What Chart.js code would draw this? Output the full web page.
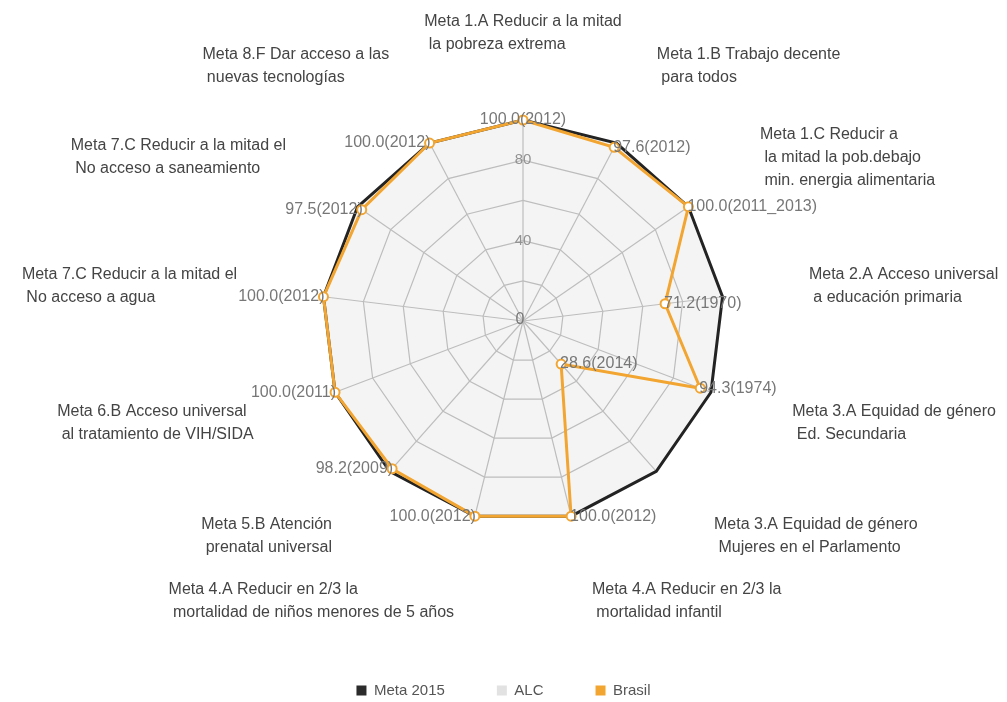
<!DOCTYPE html>
<html>
<head>
<meta charset="utf-8">
<script src="https://cdn.jsdelivr.net/npm/chart.js@4.4.1/dist/chart.umd.min.js"></script>
<style>
  html, body { margin: 0; padding: 0; background: #fff; }
  #wrap { width: 1007px; height: 702px; }
</style>
</head>
<body>
<div id="wrap"><canvas id="radar"></canvas></div>
<script>
// axis labels (clockwise from the top)
const metas = [
  ['Meta 1.A Reducir a la mitad', ' la pobreza extrema'],
  ['Meta 1.B Trabajo decente', ' para todos'],
  ['Meta 1.C Reducir a', ' la mitad la pob.debajo', ' min. energia alimentaria'],
  ['Meta 2.A Acceso universal', ' a educación primaria'],
  ['Meta 3.A Equidad de género', ' Ed. Secundaria'],
  ['Meta 3.A Equidad de género', ' Mujeres en el Parlamento'],
  ['Meta 4.A Reducir en 2/3 la', ' mortalidad infantil'],
  ['Meta 4.A Reducir en 2/3 la', ' mortalidad de niños menores de 5 años'],
  ['Meta 5.B Atención', ' prenatal universal'],
  ['Meta 6.B Acceso universal', ' al tratamiento de VIH/SIDA'],
  ['Meta 7.C Reducir a la mitad el', ' No acceso a agua'],
  ['Meta 7.C Reducir a la mitad el', ' No acceso a saneamiento'],
  ['Meta 8.F Dar acceso a las', ' nuevas tecnologías']
];

const meta2015 = [100, 100, 100, 100, 100, 100, 100, 100, 100, 100, 100, 100, 100];
const alc = [null, null, null, null, null, null, null, null, null, null, null, null, null];
const brasil = [100.0, 97.6, 100.0, 71.2, 94.3, 28.6, 100.0, 100.0, 98.2, 100.0, 100.0, 97.5, 100.0];
const brasilYears = ['2012', '2012', '2011_2013', '1970', '1974', '2014', '2012', '2012', '2009', '2011', '2012', '2012', '2012'];

const ticksShown = [40, 80];

const FONT = '"Liberation Sans", Arial, sans-serif';
const ORANGE = '#f2a531';
const legendBoxes = ['#2b2b2b', '#e2e2e2', ORANGE];

// how far the axis labels sit outside the outer ring (px)
const LABEL_GAP = 87;

// axis labels: blocks of left-aligned lines, anchored on the axis direction
const axisLabels = {
  id: 'axisLabels',
  afterDraw(chart) {
    const ctx = chart.ctx;
    const r = chart.scales.r;
    const lh = 23;
    ctx.save();
    ctx.font = '16px ' + FONT;
    ctx.fillStyle = '#444';
    ctx.textAlign = 'left';
    ctx.textBaseline = 'middle';
    chart.data.labels.forEach((lines, i) => {
      const p = r.getPointPosition(i, r.drawingArea + LABEL_GAP);
      const w = Math.max(...lines.map(l => ctx.measureText(l).width));
      let left;
      if (Math.abs(p.x - r.xCenter) < 5) left = p.x - w / 2;
      else if (p.x > r.xCenter) left = p.x;
      else left = p.x - w;
      const top = p.y - (lines.length * lh) / 2 + lh / 2;
      lines.forEach((l, k) => ctx.fillText(l, left, top + k * lh));
    });
    ctx.restore();
  }
};

// value labels next to the Brasil points + the "0" at the centre
const valueLabels = {
  id: 'valueLabels',
  afterDatasetsDraw(chart) {
    const ctx = chart.ctx;
    const r = chart.scales.r;
    ctx.save();
    ctx.font = '16px ' + FONT;
    ctx.fillStyle = '#777';
    ctx.textBaseline = 'middle';
    ctx.textAlign = 'center';
    ctx.fillText('0', r.xCenter - 3, r.yCenter - 1);

    const dsIndex = chart.data.datasets.findIndex(d => d.label === 'Brasil');
    const meta = chart.getDatasetMeta(dsIndex);
    meta.data.forEach((pt, i) => {
      const txt = brasil[i].toFixed(1) + '(' + brasilYears[i] + ')';
      let x = pt.x;
      if (Math.abs(pt.x - r.xCenter) < 2) {
        ctx.textAlign = 'center';
      } else if (pt.x > r.xCenter) {
        ctx.textAlign = 'left';
        x = pt.x - 1;
      } else {
        ctx.textAlign = 'right';
        x = pt.x + 1;
      }
      ctx.fillText(txt, x, pt.y);
    });
    ctx.restore();
  }
};

new Chart(document.getElementById('radar'), {
  type: 'radar',
  data: {
    labels: metas,
    datasets: [
      {
        label: 'Meta 2015',
        data: meta2015,
        borderColor: '#232323',
        backgroundColor: 'rgba(0,0,0,0.045)',
        borderWidth: 3,
        fill: true,
        pointRadius: 0,
        order: 3
      },
      {
        label: 'ALC',
        data: alc,
        borderColor: '#dddddd',
        backgroundColor: 'rgba(0,0,0,0)',
        borderWidth: 2,
        pointRadius: 0,
        order: 2
      },
      {
        label: 'Brasil',
        data: brasil,
        borderColor: ORANGE,
        backgroundColor: 'rgba(0,0,0,0)',
        borderWidth: 3,
        fill: false,
        pointRadius: 4.5,
        pointBorderWidth: 2,
        pointBackgroundColor: '#fff',
        pointBorderColor: ORANGE,
        order: 1
      }
    ]
  },
  options: {
    responsive: true,
    maintainAspectRatio: false,
    animation: false,
    layout: { padding: { top: 110, bottom: -6, left: 0, right: 0 } },
    scales: {
      r: {
        min: 0,
        max: 100,
        beginAtZero: true,
        grid: { color: '#c6c6c6', lineWidth: 1.2 },
        angleLines: { color: '#c6c6c6', lineWidth: 1.2 },
        ticks: {
          stepSize: 20,
          showLabelBackdrop: false,
          color: '#999',
          font: { size: 15, family: FONT },
          callback: v => (ticksShown.includes(v) ? String(v) : '')
        },
        pointLabels: { display: false }
      }
    },
    plugins: {
      tooltip: { enabled: false },
      // empty title on the left only to push the radar a little to the right
      title: { display: true, position: 'left', fullSize: false, text: '', padding: 13 },
      legend: {
        position: 'bottom',
        title: { display: true, text: '', padding: { top: 0, bottom: 84 } },
        labels: {
          boxWidth: 10,
          boxHeight: 10,
          color: '#555',
          padding: 52,
          font: { size: 15, family: FONT },
          generateLabels: chart => chart.data.datasets.map((ds, i) => ({
            text: ds.label,
            fillStyle: legendBoxes[i],
            strokeStyle: legendBoxes[i],
            lineWidth: 0,
            fontColor: '#555',
            hidden: !chart.isDatasetVisible(i),
            datasetIndex: i
          }))
        }
      }
    }
  },
  plugins: [valueLabels, axisLabels]
});
</script>
</body>
</html>
